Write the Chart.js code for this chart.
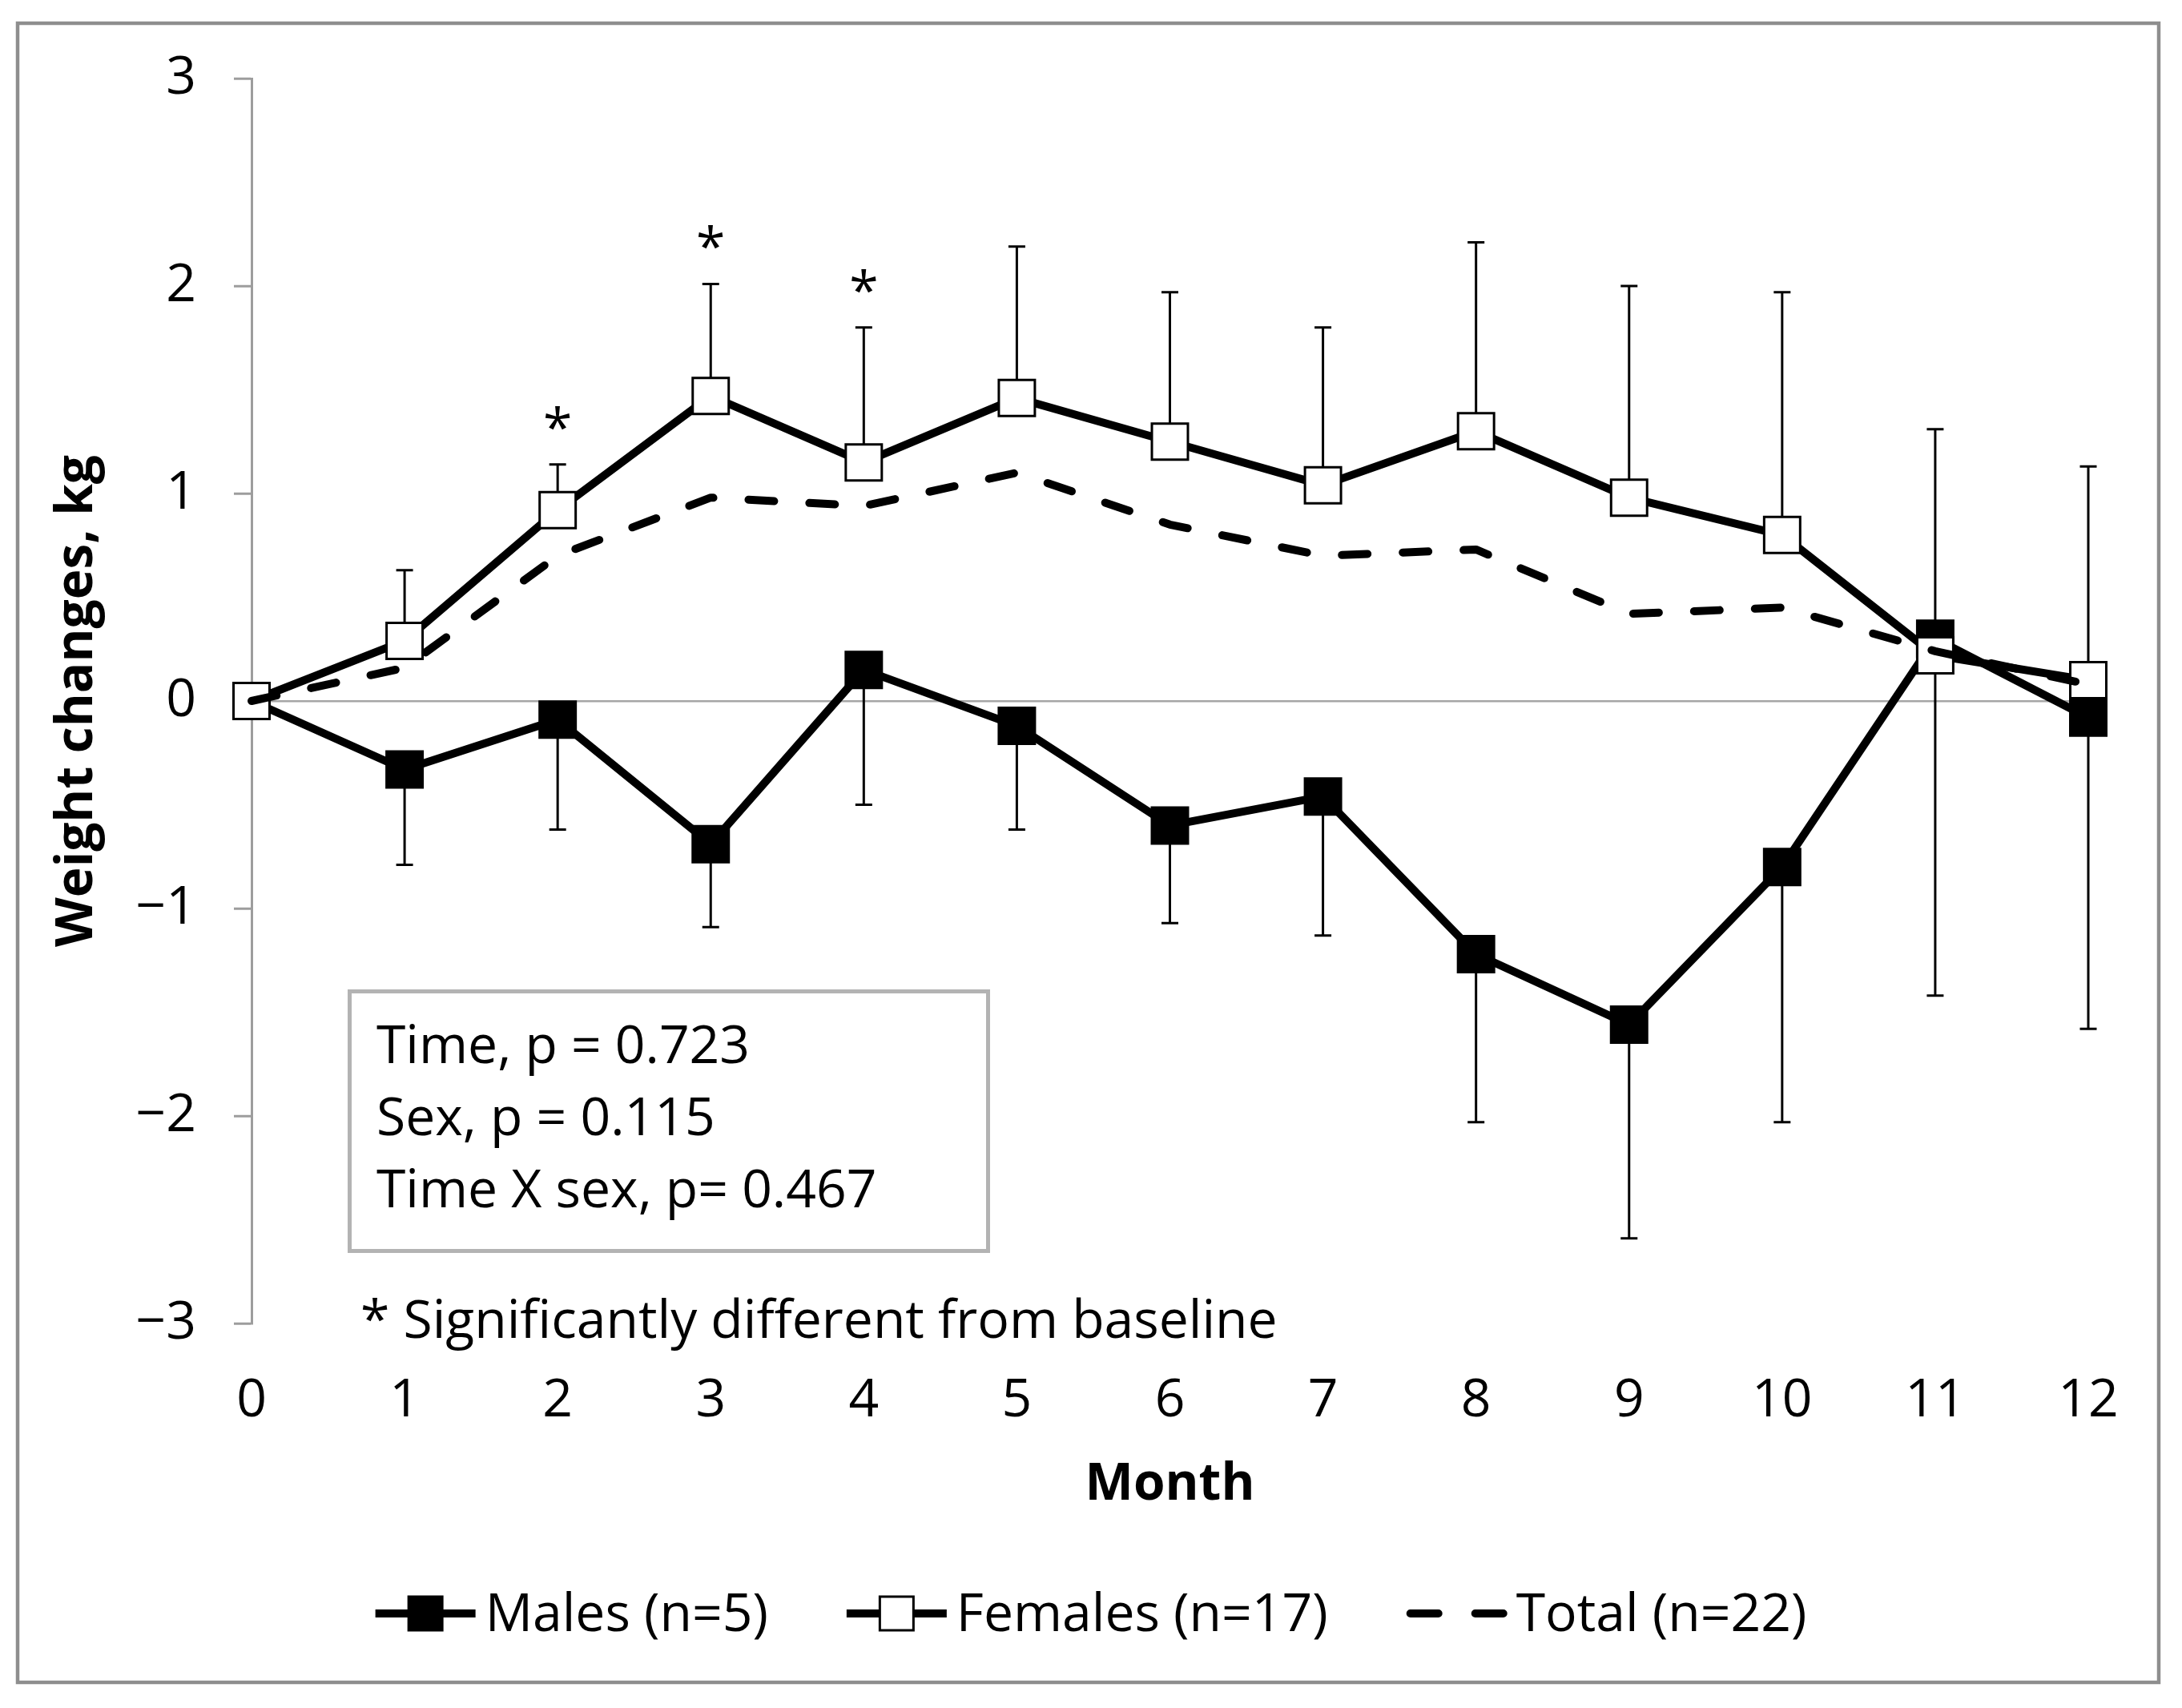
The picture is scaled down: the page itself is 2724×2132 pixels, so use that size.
<!DOCTYPE html>
<html>
<head>
<meta charset="utf-8">
<script src="https://cdn.jsdelivr.net/npm/chart.js@4.4.1/dist/chart.umd.min.js"></script>
<style>
  html, body { margin: 0; padding: 0; background: #ffffff; }
  canvas { display: block; }
</style>
</head>
<body>
<canvas id="chart" width="2724" height="2132"></canvas>
<script>
// ---------- data ----------
const months = [0, 1, 2, 3, 4, 5, 6, 7, 8, 9, 10, 11, 12];
const monthLabels = ['0', '1', '2', '3', '4', '5', '6', '7', '8', '9', '10', '11', '12'];
const yTickValues = [-3, -2, -1, 0, 1, 2, 3];
const yTickLabels = ['\u22123', '\u22122', '\u22121', '0', '1', '2', '3'];

const malesMean   = [0, -0.33, -0.09, -0.69, 0.15, -0.12, -0.60, -0.46, -1.22, -1.56, -0.80, 0.30, -0.08];
const malesSD     = [0,  0.46,  0.53,  0.40, 0.65,  0.50,  0.47,  0.67,  0.81,  1.03,  1.23, 1.72,  1.50];
const femalesMean = [0,  0.29,  0.92,  1.47, 1.15,  1.46,  1.25,  1.04,  1.30,  0.98,  0.80, 0.22,  0.10];
const femalesSD   = [0,  0.34,  0.22,  0.54, 0.65,  0.73,  0.72,  0.76,  0.91,  1.02,  1.17, 1.09,  1.03];
const totalMean   = [0,  0.16,  0.70,  0.98, 0.94,  1.10,  0.85,  0.70,  0.73,  0.42,  0.45, 0.24,  0.08];

const significantMonths = [2, 3, 4];

const seriesNames = ['Males (n=5)', 'Females (n=17)', 'Total (n=22)'];
const xTitle = 'Month';
const yTitle = 'Weight changes, kg';
const statLines = ['Time, p = 0.723', 'Sex, p = 0.115', 'Time X sex, p= 0.467'];
const footnote = '* Significantly different from baseline';

// ---------- styling ----------
const FONT = "'Open Sans', 'DejaVu Sans', sans-serif";
const TEXT_SIZE = 66;
const TITLE_SIZE = 64;
const AXIS_GRAY = '#9d9d9d';
const LINE_W = 10;

Chart.defaults.font.family = FONT;
Chart.defaults.color = '#000000';

const toPoints = (vals) => months.map((m, i) => ({ x: m, y: vals[i] }));

// error bars (drawn under the series, through the chart scales)
const errorBarPlugin = {
  id: 'errorBars',
  beforeDatasetsDraw(chart) {
    const { ctx, scales: { x, y } } = chart;
    ctx.save();
    ctx.strokeStyle = '#000000';
    ctx.lineWidth = 3;
    const cap = 10.5;
    months.forEach((m, i) => {
      const px = x.getPixelForValue(m);
      const bars = [
        [femalesMean[i], femalesMean[i] + femalesSD[i]],
        [malesMean[i], malesMean[i] - malesSD[i]]
      ];
      bars.forEach(([from, to]) => {
        if (from === to) return;
        const p0 = y.getPixelForValue(from);
        const p1 = y.getPixelForValue(to);
        ctx.beginPath();
        ctx.moveTo(px, p0);
        ctx.lineTo(px, p1);
        ctx.moveTo(px - cap, p1);
        ctx.lineTo(px + cap, p1);
        ctx.stroke();
      });
    });
    ctx.restore();
  }
};

// asterisks, stats box, footnote, frame, legend
const annotationPlugin = {
  id: 'annotations',
  afterDraw(chart) {
    const { ctx, scales: { x, y } } = chart;
    ctx.save();

    // outer frame
    ctx.strokeStyle = '#8e8e8e';
    ctx.lineWidth = 4.5;
    ctx.strokeRect(22, 29, 2673, 2071);

    // significance asterisks above female error bars
    ctx.fillStyle = '#000000';
    ctx.font = `${TEXT_SIZE}px ${FONT}`;
    ctx.textAlign = 'center';
    ctx.textBaseline = 'alphabetic';
    const am = ctx.measureText('*');
    const starMid = (am.actualBoundingBoxAscent - am.actualBoundingBoxDescent) / 2;
    significantMonths.forEach((m) => {
      const i = months.indexOf(m);
      const px = x.getPixelForValue(m);
      const top = y.getPixelForValue(femalesMean[i] + femalesSD[i]);
      const cy = top - 58;
      ctx.fillText('*', px, cy + starMid);
    });

    // stats box
    ctx.strokeStyle = '#b3b3b3';
    ctx.lineWidth = 5;
    ctx.strokeRect(436.5, 1237.5, 797, 324);
    ctx.textAlign = 'left';
    statLines.forEach((t, k) => {
      ctx.fillText(t, 470, 1327 + k * 90);
    });

    // footnote
    ctx.fillText(footnote, 450, 1670);

    // legend
    const sets = chart.data.datasets;
    const sampleW = 125, sampleGap = 12, itemGap = 98, legendY = 2014, textBase = 2036;
    const widths = sets.map(ds => ctx.measureText(ds.label).width);
    const total = widths.reduce((a, b) => a + b, 0) + sets.length * (sampleW + sampleGap) + (sets.length - 1) * itemGap;
    let cx = chart.width / 2 - total / 2;
    sets.forEach((ds, k) => {
      ctx.save();
      ctx.strokeStyle = ds.borderColor;
      ctx.lineWidth = ds.borderWidth;
      const dashed = ds.borderDash && ds.borderDash.length;
      ctx.lineCap = dashed ? 'round' : 'butt';
      ctx.setLineDash(dashed ? [35, 46] : []);
      ctx.beginPath();
      ctx.moveTo(cx + (dashed ? 5 : 0), legendY);
      ctx.lineTo(cx + sampleW, legendY);
      ctx.stroke();
      ctx.setLineDash([]);
      if (ds.pointRadius > 0) {
        const s = 42;
        const mx = cx + sampleW / 2;
        ctx.fillStyle = ds.pointBackgroundColor;
        ctx.fillRect(mx - s / 2, legendY - s / 2, s, s);
        ctx.lineWidth = ds.pointBorderWidth;
        ctx.strokeStyle = ds.pointBorderColor;
        ctx.strokeRect(mx - s / 2, legendY - s / 2, s, s);
      }
      ctx.restore();
      ctx.fillStyle = '#000000';
      ctx.fillText(ds.label, cx + sampleW + sampleGap, textBase);
      cx += sampleW + sampleGap + widths[k] + itemGap;
    });

    ctx.restore();
  }
};

const chart = new Chart(document.getElementById('chart'), {
  type: 'line',
  data: {
    datasets: [
      {
        label: seriesNames[0],
        data: toPoints(malesMean),
        borderColor: '#000000',
        borderWidth: LINE_W,
        borderJoinStyle: 'round',
        pointStyle: 'rect',
        pointRadius: 31.8,
        pointHoverRadius: 31.8,
        pointBackgroundColor: '#000000',
        pointBorderColor: '#000000',
        pointBorderWidth: 3,
        clip: false,
        order: 3
      },
      {
        label: seriesNames[1],
        data: toPoints(femalesMean),
        borderColor: '#000000',
        borderWidth: LINE_W,
        borderJoinStyle: 'round',
        pointStyle: 'rect',
        pointRadius: 31.8,
        pointHoverRadius: 31.8,
        pointBackgroundColor: '#ffffff',
        pointBorderColor: '#000000',
        pointBorderWidth: 3,
        clip: false,
        order: 2
      },
      {
        label: seriesNames[2],
        data: toPoints(totalMean),
        borderColor: '#000000',
        borderWidth: LINE_W,
        borderDash: [32, 44],
        borderCapStyle: 'round',
        borderJoinStyle: 'round',
        pointRadius: 0,
        pointHoverRadius: 0,
        clip: false,
        order: 1
      }
    ]
  },
  options: {
    responsive: false,
    animation: false,
    devicePixelRatio: 1,
    events: [],
    layout: { padding: { top: 98, right: 117, bottom: 202, left: 0 } },
    plugins: {
      legend: { display: false },
      tooltip: { enabled: false },
      title: { display: false }
    },
    scales: {
      x: {
        type: 'linear',
        position: 'bottom',
        min: 0,
        max: 12,
        afterFit(scale) { scale.height = 278; },
        afterBuildTicks(scale) { scale.ticks = months.map(v => ({ value: v })); },
        grid: { display: false, drawTicks: false },
        border: { display: false },
        ticks: {
          padding: 58,
          maxRotation: 0,
          autoSkip: false,
          font: { size: TEXT_SIZE, family: FONT },
          color: '#000000',
          callback: (v) => monthLabels[months.indexOf(v)]
        },
        title: {
          display: true,
          text: xTitle,
          font: { size: TITLE_SIZE, weight: 'bold', family: FONT },
          color: '#000000',
          padding: { top: 0, bottom: 38 }
        }
      },
      y: {
        type: 'linear',
        min: -3,
        max: 3,
        afterFit(scale) { scale.width = 314; },
        afterBuildTicks(scale) { scale.ticks = yTickValues.map(v => ({ value: v })); },
        grid: {
          drawTicks: true,
          tickLength: 22,
          lineWidth: 2.5,
          color: (c) => (c.tick && c.tick.value === 0 ? '#a6a6a6' : 'rgba(0,0,0,0)'),
          tickColor: AXIS_GRAY,
          tickWidth: 3
        },
        border: { display: true, color: AXIS_GRAY, width: 3 },
        ticks: {
          padding: 47,
          font: { size: TEXT_SIZE, family: FONT },
          color: '#000000',
          callback: (v) => yTickLabels[yTickValues.indexOf(v)]
        },
        title: {
          display: true,
          text: yTitle,
          font: { size: TITLE_SIZE, weight: 'bold', family: FONT },
          color: '#000000',
          padding: { top: 58, bottom: 0 }
        }
      }
    }
  },
  plugins: [errorBarPlugin, annotationPlugin]
});
</script>
</body>
</html>
